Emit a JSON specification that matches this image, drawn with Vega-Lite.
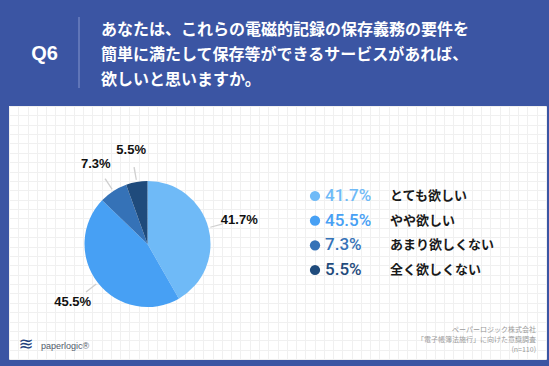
{
  "$schema": "https://vega.github.io/schema/vega-lite/v6.json",
  "background": "#3b55a3",
  "padding": {"left": 6, "right": 6, "top": 0, "bottom": 7},
  "config": {"view": {"stroke": null}, "font": "Liberation Sans", "concat": {"spacing": 0}, "scale": {"pointPadding": 0}},
  "spacing": 0,
  "vconcat": [
    {
      "width": 537,
      "height": 106,
      "layer": [
        {
          "data": {"values": [{"q": "Q6"}]},
          "mark": {"type": "text", "fontSize": 20, "fontWeight": "bold", "color": "white", "font": "Liberation Sans", "align": "center", "baseline": "middle"},
          "encoding": {"text": {"field": "q"}, "x": {"value": 35.5}, "y": {"value": 54}}
        },
        {
          "data": {"values": [{"q": "Q6"}]},
          "mark": {"type": "rule", "color": "#8596cd", "strokeWidth": 1},
          "encoding": {"x": {"value": 70}, "y": {"value": 17}, "y2": {"value": 88}}
        },
        {
          "data": {"values": [
            {"i": 1, "t": "あなたは、これらの電磁的記録の保存義務の要件を"},
            {"i": 2, "t": "簡単に満たして保存等ができるサービスがあれば、"},
            {"i": 3, "t": "欲しいと思いますか。"}
          ]},
          "mark": {"type": "text", "fontSize": 16, "fontWeight": "bold", "font": "Noto Sans CJK JP", "color": "white", "align": "left", "baseline": "middle"},
          "encoding": {
            "x": {"value": 92},
            "y": {"field": "i", "type": "ordinal", "axis": null, "scale": {"type": "point", "padding": 0, "range": [30, 80]}},
            "text": {"field": "t"}
          }
        }
      ]
    },
    {
      "width": 537,
      "height": 253,
      "view": {"fill": "white", "stroke": null},
      "data": {"values": [
        {"label": "とても欲しい", "value": 0.417, "order": 1},
        {"label": "やや欲しい", "value": 0.455, "order": 2},
        {"label": "あまり欲しくない", "value": 0.073, "order": 3},
        {"label": "全く欲しくない", "value": 0.055, "order": 4}
      ]},
      "resolve": {"scale": {"x": "independent", "y": "independent"}, "axis": {"x": "independent", "y": "independent"}},
      "layer": [
        {
          "mark": {"type": "point", "opacity": 0},
          "encoding": {
            "x": {"datum": 0, "type": "quantitative", "scale": {"domain": [0, 58], "nice": false},
              "axis": {"grid": true, "gridColor": "#f0f0f0", "labels": false, "ticks": false, "domain": false, "title": null, "tickCount": 58, "minExtent": 0, "maxExtent": 0}},
            "y": {"datum": 0, "type": "quantitative", "scale": {"domain": [0, 27], "nice": false},
              "axis": {"grid": true, "gridColor": "#f0f0f0", "labels": false, "ticks": false, "domain": false, "title": null, "tickCount": 27, "minExtent": 0, "maxExtent": 0}}
          }
        },
        {
          "mark": {"type": "arc"},
          "encoding": {
            "theta": {"field": "value", "type": "quantitative", "stack": true, "scale": {"domain": [0, 1]}},
            "order": {"field": "order", "type": "quantitative"},
            "color": {"field": "label", "type": "nominal", "legend": null,
              "scale": {"domain": ["とても欲しい", "やや欲しい", "あまり欲しくない", "全く欲しくない"], "range": ["#6fbaf7", "#47a0f4", "#3572b7", "#1f4b7c"]}},
            "radius": {"value": 63},
            "x": {"value": 138.5},
            "y": {"value": 138}
          }
        },
        {
          "data": {"values": [
            {"a": 0.207, "b": 0.210},
            {"a": 0.643, "b": 0.646},
            {"a": 0.907, "b": 0.910},
            {"a": 0.971, "b": 0.974}
          ]},
          "mark": {"type": "arc", "color": "#d0d0d0"},
          "encoding": {
            "theta": {"field": "a", "type": "quantitative", "scale": {"domain": [0, 1]}},
            "theta2": {"field": "b"},
            "radius": {"value": 78},
            "radius2": {"value": 65},
            "x": {"value": 138.5},
            "y": {"value": 138}
          }
        },
        {
          "mark": {"type": "text", "fontSize": 13, "fontWeight": "bold", "color": "#111111", "align": "center", "baseline": "middle"},
          "encoding": {
            "theta": {"field": "value", "type": "quantitative", "stack": true, "scale": {"domain": [0, 1]}},
            "order": {"field": "order", "type": "quantitative"},
            "text": {"field": "value", "type": "quantitative", "format": ".1%"},
            "radius": {"value": 95},
            "x": {"value": 138.5},
            "y": {"value": 138}
          }
        },
        {
          "mark": {"type": "circle", "size": 105, "opacity": 1},
          "encoding": {
            "x": {"value": 306},
            "y": {"field": "label", "type": "nominal", "axis": null,
              "scale": {"type": "point", "padding": 0, "domain": ["とても欲しい", "やや欲しい", "あまり欲しくない", "全く欲しくない"], "range": [90, 164]}},
            "color": {"field": "label", "type": "nominal", "legend": null}
          }
        },
        {
          "mark": {"type": "text", "font": "Roboto", "fontWeight": 500, "fontSize": 17, "align": "left", "baseline": "middle"},
          "encoding": {
            "x": {"value": 316},
            "y": {"field": "label", "type": "nominal", "axis": null,
              "scale": {"type": "point", "padding": 0, "domain": ["とても欲しい", "やや欲しい", "あまり欲しくない", "全く欲しくない"], "range": [90, 164]}},
            "text": {"field": "value", "type": "quantitative", "format": ".1%"},
            "color": {"field": "label", "type": "nominal", "legend": null}
          }
        },
        {
          "mark": {"type": "text", "font": "Noto Sans CJK JP", "fontWeight": "bold", "fontSize": 13, "align": "left", "baseline": "middle", "color": "#1a1a1a"},
          "encoding": {
            "x": {"value": 381},
            "y": {"field": "label", "type": "nominal", "axis": null,
              "scale": {"type": "point", "padding": 0, "domain": ["とても欲しい", "やや欲しい", "あまり欲しくない", "全く欲しくない"], "range": [90, 164]}},
            "text": {"field": "label"}
          }
        },
        {
          "data": {"values": [
            {"i": 1, "t": "ペーパーロジック株式会社"},
            {"i": 2, "t": "「電子帳簿法施行」に向けた意識調査"},
            {"i": 3, "t": "(n=110)"}
          ]},
          "mark": {"type": "text", "font": "Noto Sans CJK JP", "fontSize": 7, "align": "right", "baseline": "middle", "color": "#9b9b9b"},
          "encoding": {
            "x": {"value": 527},
            "y": {"field": "i", "type": "ordinal", "axis": null, "scale": {"type": "point", "padding": 0, "range": [224, 244]}},
            "text": {"field": "t"}
          }
        },
        {
          "data": {"values": [{"t": "icon"}]},
          "mark": {"type": "text", "text": "≋", "font": "DejaVu Sans", "fontSize": 18, "align": "center", "baseline": "middle", "color": "#23427e"},
          "encoding": {"x": {"value": 17}, "y": {"value": 239}}
        },
        {
          "data": {"values": [{"t": "paperlogic®"}]},
          "mark": {"type": "text", "font": "Liberation Sans", "fontSize": 9, "align": "left", "baseline": "middle", "color": "#505a6a"},
          "encoding": {"x": {"value": 32}, "y": {"value": 240}, "text": {"field": "t"}}
        }
      ]
    }
  ]
}
